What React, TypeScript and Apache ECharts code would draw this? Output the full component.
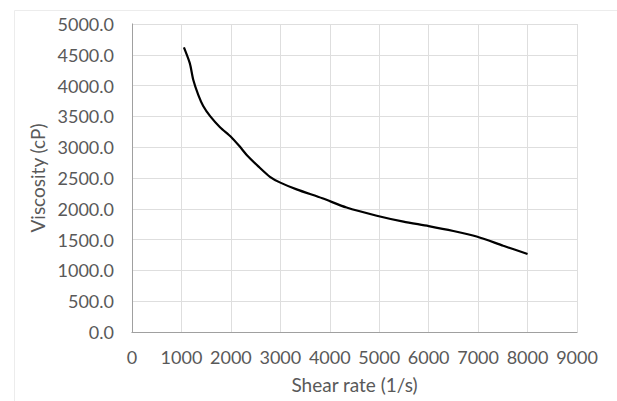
import React, { useEffect, useRef } from "react";
import * as echarts from "echarts";

const shearRate = [1050, 1170, 1240, 1340, 1440, 1580, 1780, 2000, 2180, 2320, 2560, 2790, 3000, 3330, 3850, 4340, 4950, 5490, 6000, 6500, 6970, 7510, 8000];
const viscosity = [4620, 4360, 4090, 3850, 3670, 3505, 3325, 3170, 3010, 2875, 2685, 2520, 2425, 2315, 2170, 2020, 1888, 1792, 1720, 1640, 1550, 1400, 1266];

const xTicks = { min: 0, max: 9000, interval: 1000 };
const yTicks = { min: 0, max: 5000, interval: 500 };

const xTitle = "Shear rate (1/s)";
const yTitle = "Viscosity (cP)";

export default function App() {
  const ref = useRef<HTMLDivElement>(null);
  useEffect(() => {
    if (!ref.current) return;
    const chart = echarts.init(ref.current, undefined, { renderer: "svg" });
    const font = "Lato";
    const labelColor = "#595959";
    chart.setOption({
      animation: false,
      backgroundColor: "#ffffff",
      graphic: [
        {
          type: "rect",
          shape: { x: 14.5, y: 10.5, width: 700, height: 500 },
          style: { fill: "none", stroke: "#ececec", lineWidth: 1 },
          silent: true,
          z: -10,
        },
      ],
      grid: { left: 132, top: 24, right: 40, bottom: 69, containLabel: false },
      xAxis: [
        {
          type: "value",
          min: xTicks.min,
          max: xTicks.max,
          interval: xTicks.interval,
          name: xTitle,
          nameLocation: "middle",
          nameGap: 43,
          nameTextStyle: { fontFamily: font, fontSize: 19, color: labelColor },
          axisLine: { show: true, lineStyle: { color: "#d0d0d0", width: 1 } },
          axisTick: { show: false },
          axisLabel: {
            fontFamily: font,
            fontSize: 18,
            color: labelColor,
            margin: 16,
            formatter: (v: number) => String(v),
          },
          splitLine: { show: true, lineStyle: { color: "#dedede", width: 1 } },
        },
        {
          type: "value",
          position: "top",
          min: xTicks.min,
          max: xTicks.max,
          axisLine: { show: true, lineStyle: { color: "#a0a0a0", width: 1 } },
          axisTick: { show: false },
          axisLabel: { show: false },
          splitLine: { show: false },
        },
      ],
      yAxis: [
        {
          type: "value",
          min: yTicks.min,
          max: yTicks.max,
          interval: yTicks.interval,
          name: yTitle,
          nameLocation: "middle",
          nameGap: 74,
          nameTextStyle: { fontFamily: font, fontSize: 19, color: labelColor },
          axisLine: { show: true, lineStyle: { color: "#d0d0d0", width: 1 } },
          axisTick: { show: false },
          axisLabel: {
            fontFamily: font,
            fontSize: 18,
            color: labelColor,
            margin: 18,
            formatter: (v: number) => v.toFixed(1),
          },
          splitLine: { show: true, lineStyle: { color: "#dedede", width: 1 } },
        },
        {
          type: "value",
          position: "right",
          min: yTicks.min,
          max: yTicks.max,
          axisLine: { show: true, lineStyle: { color: "#a0a0a0", width: 1 } },
          axisTick: { show: false },
          axisLabel: { show: false },
          splitLine: { show: false },
        },
      ],
      series: [
        {
          type: "line",
          data: shearRate.map((x, i) => [x, viscosity[i]]),
          smooth: 0.25,
          showSymbol: false,
          symbol: "none",
          lineStyle: { color: "#000000", width: 2.2 },
        },
      ],
    });
    return () => chart.dispose();
  }, []);
  return (
    <div
      ref={ref}
      style={{ position: "fixed", left: 0, top: 0, width: 617, height: 401 }}
    />
  );
}
